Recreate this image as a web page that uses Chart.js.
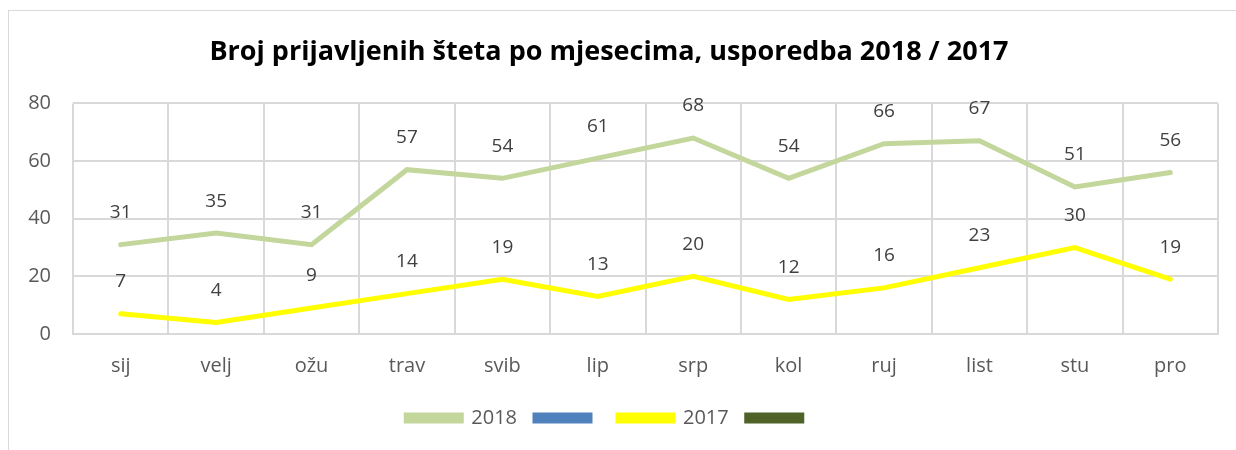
<!DOCTYPE html>
<html>
<head>
<meta charset="utf-8">
<script src="https://cdn.jsdelivr.net/npm/chart.js@4.4.1/dist/chart.umd.min.js"></script>
<style>
  html, body { margin: 0; padding: 0; background: #fff; }
  #okvir { position: absolute; left: 8px; top: 10px; width: 1300px; height: 500px; border: 1px solid #d9d9d9; }
  #wrap { position: absolute; left: 0; top: 0; width: 1236px; height: 450px; }
</style>
</head>
<body>
<div id="okvir"></div>
<div id="wrap"><canvas id="chart"></canvas></div>
<script>
const mjeseci = ['sij', 'velj', 'ožu', 'trav', 'svib', 'lip', 'srp', 'kol', 'ruj', 'list', 'stu', 'pro'];
const steta2018 = [31, 35, 31, 57, 54, 61, 68, 54, 66, 67, 51, 56];
const steta2017 = [7, 4, 9, 14, 19, 13, 20, 12, 16, 23, 30, 19];
const yTicks = [0, 20, 40, 60, 80];

const font = '"Open Sans", sans-serif';

// oznake vrijednosti iznad tocaka
const oznake = {
    id: 'oznake',
    afterDatasetsDraw(chart) {
        const ctx = chart.ctx;
        ctx.save();
        ctx.font = '19px ' + font;
        ctx.fillStyle = '#404040';
        ctx.textAlign = 'center';
        ctx.textBaseline = 'middle';
        chart.data.datasets.forEach(function (ds, i) {
            if (!ds.data.length) return;
            chart.getDatasetMeta(i).data.forEach(function (pt, j) {
                ctx.fillText(ds.data[j], pt.x, pt.y - 32);
            });
        });
        ctx.restore();
    }
};

var ctx = document.getElementById('chart').getContext('2d');
var data = {
    labels: mjeseci,
    datasets: [
        { label: '2018', data: steta2018, borderColor: '#C3D69B', backgroundColor: '#C3D69B', borderWidth: 5 },
        { label: '', data: [], borderColor: '#4F81BD', backgroundColor: '#4F81BD', borderWidth: 5 },
        { label: '2017', data: steta2017, borderColor: '#FFFF00', backgroundColor: '#FFFF00', borderWidth: 5 },
        { label: '', data: [], borderColor: '#4F6228', backgroundColor: '#4F6228', borderWidth: 5 }
    ]
};

const config = {
    type: 'line',
    data,
    plugins: [oznake],
    options: {
        responsive: true,
        maintainAspectRatio: false,
        animation: false,
        elements: { point: { radius: 0 }, line: { tension: 0, borderCapStyle: 'round' } },
        layout: { padding: { left: 0, right: 18, top: 0, bottom: 12 } },
        plugins: {
            title: {
                display: true,
                text: 'Broj prijavljenih šteta po mjesecima, usporedba 2018 / 2017',
                color: '#000',
                font: { family: font, size: 27, weight: 'bold' },
                padding: { top: 36, bottom: 35 }
            },
            legend: {
                position: 'bottom',
                labels: {
                    color: '#595959',
                    font: { family: font, size: 20 },
                    boxWidth: 55,
                    boxHeight: 6,
                    padding: 18
                }
            },
            tooltip: { enabled: false }
        },
        scales: {
            x: {
                offset: true,
                afterFit: function (s) { s.height = 56; },
                grid: { color: '#d9d9d9', lineWidth: 2, offset: true, drawTicks: false },
                border: { color: '#d9d9d9', width: 2 },
                ticks: { color: '#595959', font: { family: font, size: 20 }, padding: 20 }
            },
            y: {
                min: 0,
                max: 80,
                afterFit: function (s) { s.width = 73; },
                afterBuildTicks: function (s) { s.ticks = yTicks.map(v => ({ value: v })); },
                grid: { color: '#d9d9d9', lineWidth: 2, drawTicks: false },
                border: { display: false },
                ticks: { color: '#595959', font: { family: font, size: 20 }, padding: 22 }
            }
        }
    }
};
myChart = new Chart(ctx, config);
</script>
</body>
</html>
